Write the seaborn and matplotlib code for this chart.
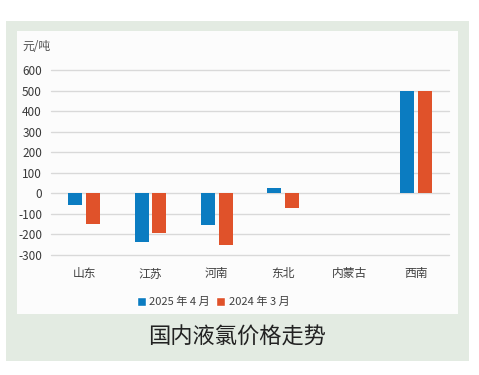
import pandas as pd
import numpy as np
import matplotlib.pyplot as plt
import seaborn as sns
from matplotlib.patches import Rectangle

# 国内液氯价格走势 (元/吨)
regions = ["山东", "江苏", "河南", "东北", "内蒙古", "西南"]
series_names = ["2025 年 4 月", "2024 年 3 月"]
price_2025_04 = [-55, -235, -155, 25, 0, 500]
price_2024_03 = [-150, -195, -250, -70, 0, 500]
y_ticks = [600, 500, 400, 300, 200, 100, 0, -100, -200, -300]

colors = ["#0B7CC1", "#E0522A"]

df = pd.DataFrame({
    "region": regions * 2,
    "series": [series_names[0]] * len(regions) + [series_names[1]] * len(regions),
    "value": price_2025_04 + price_2024_03,
})

sns.set_style("white")
plt.rcParams["font.family"] = ["Noto Sans CJK SC", "DejaVu Sans"]

fig = plt.figure(figsize=(4.79, 3.75), dpi=100)
fig.patch.set_facecolor("white")

# green outer panel and white inner card (drawn below the axes)
fig.patches.append(Rectangle((6 / 479, 1 - 361 / 375), 463 / 479, 340 / 375,
                             transform=fig.transFigure, facecolor="#E3EBE2",
                             edgecolor="none", zorder=-2))
fig.patches.append(Rectangle((17 / 479, 1 - 314 / 375), 441 / 479, 283 / 375,
                             transform=fig.transFigure, facecolor="#FCFCFC",
                             edgecolor="none", zorder=-1))

ax = fig.add_axes([51 / 479, 1 - 255 / 375, 398 / 479, 185 / 375])
ax.set_facecolor("none")

sns.barplot(data=df, x="region", y="value", hue="series", order=regions,
            hue_order=series_names, palette=colors, width=0.54, gap=0.22,
            ax=ax, legend=False, saturation=1, edgecolor="none", zorder=3)

ax.set_ylim(-300, 600)
ax.set_yticks(y_ticks)
ax.set_yticklabels([str(t) for t in y_ticks])
ax.set_xlim(-0.5, len(regions) - 0.5)
ax.yaxis.grid(True, color="#D9D9D9", linewidth=1, clip_on=False)
for gl in ax.get_ygridlines():
    gl.set_clip_on(False)
ax.set_axisbelow(True)
for s in ax.spines.values():
    s.set_visible(False)
ax.tick_params(axis="y", length=0, pad=6.5, labelsize=8.5, labelcolor="#3A3A3A")
ax.tick_params(axis="x", length=0, pad=9, labelsize=8.5, labelcolor="#404040")
ax.set_xlabel("")
ax.set_ylabel("")

fig.text(22 / 479, 1 - 47 / 375, "元/吨", fontsize=8.5, color="#505050",
         va="center", ha="left")

handles = [Rectangle((0, 0), 1, 1, facecolor=c) for c in colors]
fig.legend(handles, series_names, loc="center", ncol=2, frameon=False,
           bbox_to_anchor=(213 / 479, 1 - 302 / 375), fontsize=8,
           handlelength=0.8, handleheight=0.8, handletextpad=0.3,
           columnspacing=0.6, labelcolor="#404040")

fig.text(237 / 479, 1 - 337 / 375, "国内液氯价格走势", fontsize=16,
         color="#222222", ha="center", va="center")

fig.savefig("out.png", dpi=100)
